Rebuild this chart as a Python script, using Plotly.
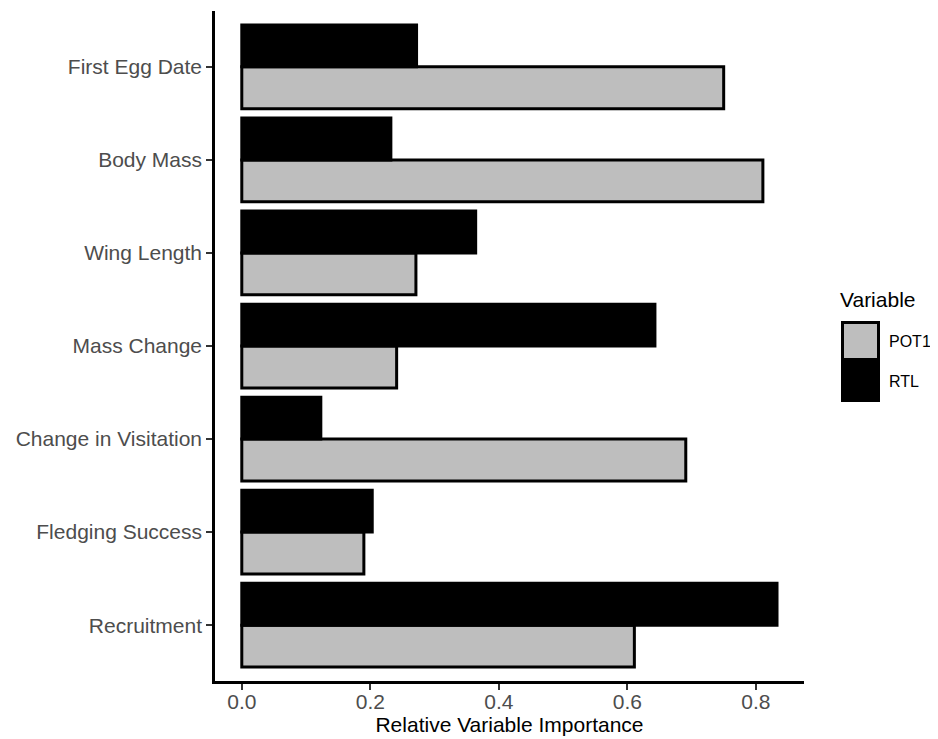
import plotly.graph_objects as go

# Data (top-to-bottom order as displayed)
categories = ["First Egg Date", "Body Mass", "Wing Length", "Mass Change",
              "Change in Visitation", "Fledging Success", "Recruitment"]
pot1_values = [0.750, 0.811, 0.271, 0.241, 0.691, 0.190, 0.611]
rtl_values = [0.272, 0.232, 0.364, 0.643, 0.123, 0.203, 0.833]
series_names = ["POT1", "RTL"]
series_colors = ["#BEBEBE", "#000000"]
x_ticks = [0.0, 0.2, 0.4, 0.6, 0.8]
x_tick_labels = ["0.0", "0.2", "0.4", "0.6", "0.8"]

# the page has an 8px body margin: figure starts at (8, 8) in the window
OFF = 8
W, H = 938 - OFF, 739 - OFF
L, R, T, B = 215 - OFF, 804 - OFF, 11 - OFF, 681 - OFF

FONT = "Liberation Sans, Arial, sans-serif"

fig = go.Figure()
for name, vals, col in zip(series_names, [pot1_values, rtl_values], series_colors):
    fig.add_trace(go.Bar(
        y=categories, x=vals, name=name, orientation="h",
        marker=dict(color=col, line=dict(color="#000000", width=3)),
        showlegend=False,
    ))

def px(x):
    return (x - OFF - L) / (R - L)

def py(y):
    return (B - (y - OFF)) / (B - T)

shapes = []
annotations = []
# manual legend, ggplot style (coords in window pixels)
key_x0, key_x1 = 841, 880
keys = [(321, 361), (361, 402)]
for (y0, y1), col in zip(keys, series_colors):
    shapes.append(dict(type="rect", xref="paper", yref="paper",
                       x0=px(key_x0), x1=px(key_x1), y0=py(y1), y1=py(y0),
                       fillcolor="#000000", line=dict(width=0), layer="above"))
    shapes.append(dict(type="rect", xref="paper", yref="paper",
                       x0=px(key_x0 + 3), x1=px(key_x1 - 3), y0=py(y1 - 3), y1=py(y0 + 3),
                       fillcolor=col, line=dict(width=0), layer="above"))
for (y0, y1), name in zip(keys, series_names):
    annotations.append(dict(text=name, xref="paper", yref="paper",
                            x=px(887), y=py((y0 + y1) / 2), xanchor="left", yanchor="middle",
                            showarrow=False, font=dict(family=FONT, size=16, color="#000000")))
annotations.append(dict(text="Variable", xref="paper", yref="paper",
                        x=px(838), y=py(300), xanchor="left", yanchor="middle",
                        showarrow=False, font=dict(family=FONT, size=21, color="#000000")))

fig.update_layout(
    width=W, height=H,
    margin=dict(l=L, r=W - R, t=T, b=H - B, pad=0, autoexpand=False),
    paper_bgcolor="white", plot_bgcolor="white",
    barmode="group", bargap=0.1, bargroupgap=0,
    shapes=shapes, annotations=annotations,
    font=dict(family=FONT),
)
fig.update_xaxes(
    range=[-0.0417, 0.875], tickvals=x_ticks, ticktext=x_tick_labels,
    automargin=False,
    showgrid=False, zeroline=False, showline=True, linecolor="#000000", linewidth=2.5,
    ticks="outside", ticklen=6, tickwidth=2, tickcolor="#333333",
    ticklabelstandoff=-6,
    tickfont=dict(family=FONT, size=21, color="#4D4D4D"),
    title=dict(text="Relative Variable Importance", standoff=1,
               font=dict(family=FONT, size=21, color="#000000")),
)
fig.update_yaxes(
    categoryorder="array", categoryarray=categories[::-1],
    range=[-0.6, len(categories) - 0.4],
    automargin=False,
    showgrid=False, zeroline=False, showline=True, linecolor="#000000", linewidth=2.5,
    ticks="outside", ticklen=6, tickwidth=2, tickcolor="#333333",
    ticklabelstandoff=0,
    tickfont=dict(family=FONT, size=21, color="#4D4D4D"),
)

fig.write_html("out.html")
